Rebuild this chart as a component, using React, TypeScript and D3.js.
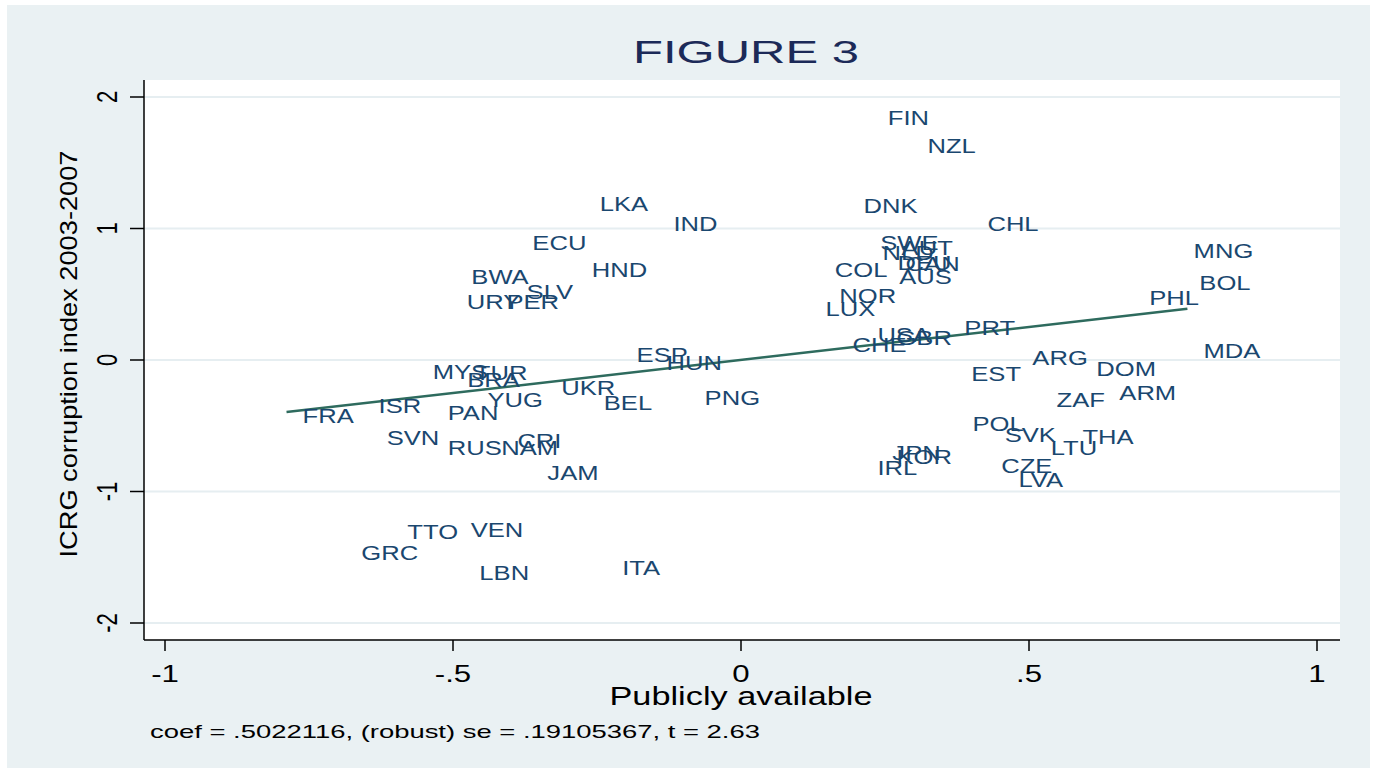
import React from "react";
import * as d3 from "d3";

// country labels and their coordinates (publicly available, ICRG index)
const countries = [
	"FIN", "NZL", "DNK", "LKA", "IND", "CHL", "ECU", "SWE", "NLD", "AUT",
	"DEU", "CAN", "AUS", "COL", "HND", "MNG", "BOL", "BWA", "SLV", "URY",
	"PER", "NOR", "LUX", "PHL", "PRT", "USA", "GBR", "CHE", "MDA", "ARG",
	"DOM", "EST", "ARM", "ZAF", "POL", "SVK", "THA", "LTU", "CZE", "LVA",
	"JPN", "KOR", "IRL", "ESP", "HUN", "MYS", "TUR", "BRA", "UKR", "YUG",
	"BEL", "PNG", "FRA", "ISR", "PAN", "SVN", "RUS", "NAM", "CRI", "JAM",
	"TTO", "VEN", "GRC", "LBN", "ITA",
];
const xValues = [
	0.227, 0.296, 0.185, -0.273, -0.145, 0.4, -0.39, 0.214, 0.218, 0.251,
	0.244, 0.258, 0.247, 0.135, -0.287, 0.758, 0.768, -0.496, -0.4, -0.504,
	-0.435, 0.143, 0.119, 0.681, 0.36, 0.209, 0.242, 0.166, 0.775, 0.478,
	0.589, 0.372, 0.629, 0.52, 0.374, 0.43, 0.565, 0.51, 0.424, 0.454,
	0.235, 0.242, 0.209, -0.209, -0.157, -0.563, -0.49, -0.503, -0.34, -0.468,
	-0.266, -0.091, -0.789, -0.657, -0.537, -0.643, -0.537, -0.444, -0.416, -0.364,
	-0.607, -0.497, -0.687, -0.482, -0.234,
];
const yValues = [
	1.845, 1.632, 1.169, 1.185, 1.033, 1.033, 0.888, 0.888, 0.812, 0.85,
	0.737, 0.729, 0.63, 0.683, 0.683, 0.828, 0.585, 0.63, 0.516, 0.44,
	0.44, 0.486, 0.387, 0.471, 0.243, 0.19, 0.167, 0.114, 0.068, 0.015,
	-0.068, -0.106, -0.251, -0.304, -0.486, -0.569, -0.585, -0.668, -0.805, -0.911,
	-0.706, -0.737, -0.82, 0.038, -0.023, -0.091, -0.099, -0.152, -0.213, -0.304,
	-0.327, -0.289, -0.425, -0.349, -0.402, -0.592, -0.668, -0.668, -0.615, -0.858,
	-1.306, -1.291, -1.465, -1.617, -1.579,
];

const xTicks = [-1, -0.5, 0, 0.5, 1];
const xTickLabels = ["-1", "-.5", "0", ".5", "1"];
const yTicks = [-2, -1, 0, 1, 2];
const yTickLabels = ["-2", "-1", "0", "1", "2"];

const coef = 0.5022116;
const intercept = 0.0;

const FONT = "'Liberation Sans', Arial, Helvetica, sans-serif";
const SX = 1.3; // Stata export is stretched horizontally

const App = () => {
	const width = 1377;
	const height = 773;
	const plot = { left: 144, right: 1340, top: 80, bottom: 640 };

	const x = d3.scaleLinear().domain([-1, 1]).range([165, 1317]);
	const y = d3.scaleLinear().domain([-2, 2]).range([623, 97]);

	const [xmin, xmax] = d3.extent(xValues) as [number, number];
	const fitLine = d3
		.line<number>()
		.x((d) => x(d))
		.y((d) => y(intercept + coef * d));

	return (
		<div style={{ position: "absolute", left: 0, top: 0 }}>
			<svg width={width} height={height} style={{ display: "block" }}>
				<rect x={0} y={0} width={width} height={height} fill="#ffffff" />
				<rect x={7} y={5} width={1363} height={763} fill="#eaf1f3" />
				<rect
					x={plot.left}
					y={plot.top}
					width={plot.right - plot.left}
					height={plot.bottom - plot.top}
					fill="#ffffff"
				/>

				{/* grid */}
				{yTicks.map((t) => (
					<line
						key={"g" + t}
						x1={plot.left}
						x2={plot.right}
						y1={y(t)}
						y2={y(t)}
						stroke="#e6eef1"
						strokeWidth={2}
					/>
				))}

				{/* axes */}
				<line x1={plot.left} x2={plot.left} y1={plot.top} y2={plot.bottom} stroke="#000" strokeWidth={1.5} />
				<line x1={plot.left} x2={plot.right} y1={plot.bottom} y2={plot.bottom} stroke="#000" strokeWidth={1.5} />

				{yTicks.map((t, i) => (
					<g key={"yt" + t}>
						<line x1={plot.left - 14} x2={plot.left} y1={y(t)} y2={y(t)} stroke="#000" strokeWidth={1.5} />
						<text
							transform={`translate(117,${y(t)}) scale(${SX},1) rotate(-90)`}
							textAnchor="middle"
							fontFamily={FONT}
							fontSize={22}
							fill="#000">
							{yTickLabels[i]}
						</text>
					</g>
				))}

				{xTicks.map((t, i) => (
					<g key={"xt" + t}>
						<line x1={x(t)} x2={x(t)} y1={plot.bottom} y2={plot.bottom + 11} stroke="#000" strokeWidth={1.5} />
						<text
							transform={`translate(${x(t)},682) scale(${SX},1)`}
							textAnchor="middle"
							fontFamily={FONT}
							fontSize={24}
							fill="#000">
							{xTickLabels[i]}
						</text>
					</g>
				))}

				{/* fit line */}
				<path d={fitLine([xmin, xmax]) || ""} fill="none" stroke="#2e6b5e" strokeWidth={2.5} />

				{/* country labels */}
				{countries.map((c, i) => (
					<text
						key={c}
						transform={`translate(${x(xValues[i]) + 16},${y(yValues[i]) + 7.2}) scale(1.28,1)`}
						fontFamily={FONT}
						fontSize={20}
						fill="#1a476f">
						{c}
					</text>
				))}

				{/* titles */}
				<text
					x={746}
					y={63}
					textAnchor="middle"
					fontFamily={FONT}
					fontSize={32}
					fill="#1c2a58"
					textLength={226}
					lengthAdjust="spacingAndGlyphs">
					FIGURE 3
				</text>
				<text
					x={741}
					y={705}
					textAnchor="middle"
					fontFamily={FONT}
					fontSize={25}
					fill="#000"
					textLength={263}
					lengthAdjust="spacingAndGlyphs">
					Publicly available
				</text>
				<text
					transform={`translate(77,354) scale(${SX},1) rotate(-90)`}
					textAnchor="middle"
					fontFamily={FONT}
					fontSize={18}
					fill="#000"
					textLength={407}
					lengthAdjust="spacingAndGlyphs">
					ICRG corruption index 2003-2007
				</text>
				<text
					x={150}
					y={738}
					fontFamily={FONT}
					fontSize={18.5}
					fill="#000"
					textLength={610}
					lengthAdjust="spacingAndGlyphs">
					coef = .5022116, (robust) se = .19105367, t = 2.63
				</text>
			</svg>
		</div>
	);
};

export default App;
